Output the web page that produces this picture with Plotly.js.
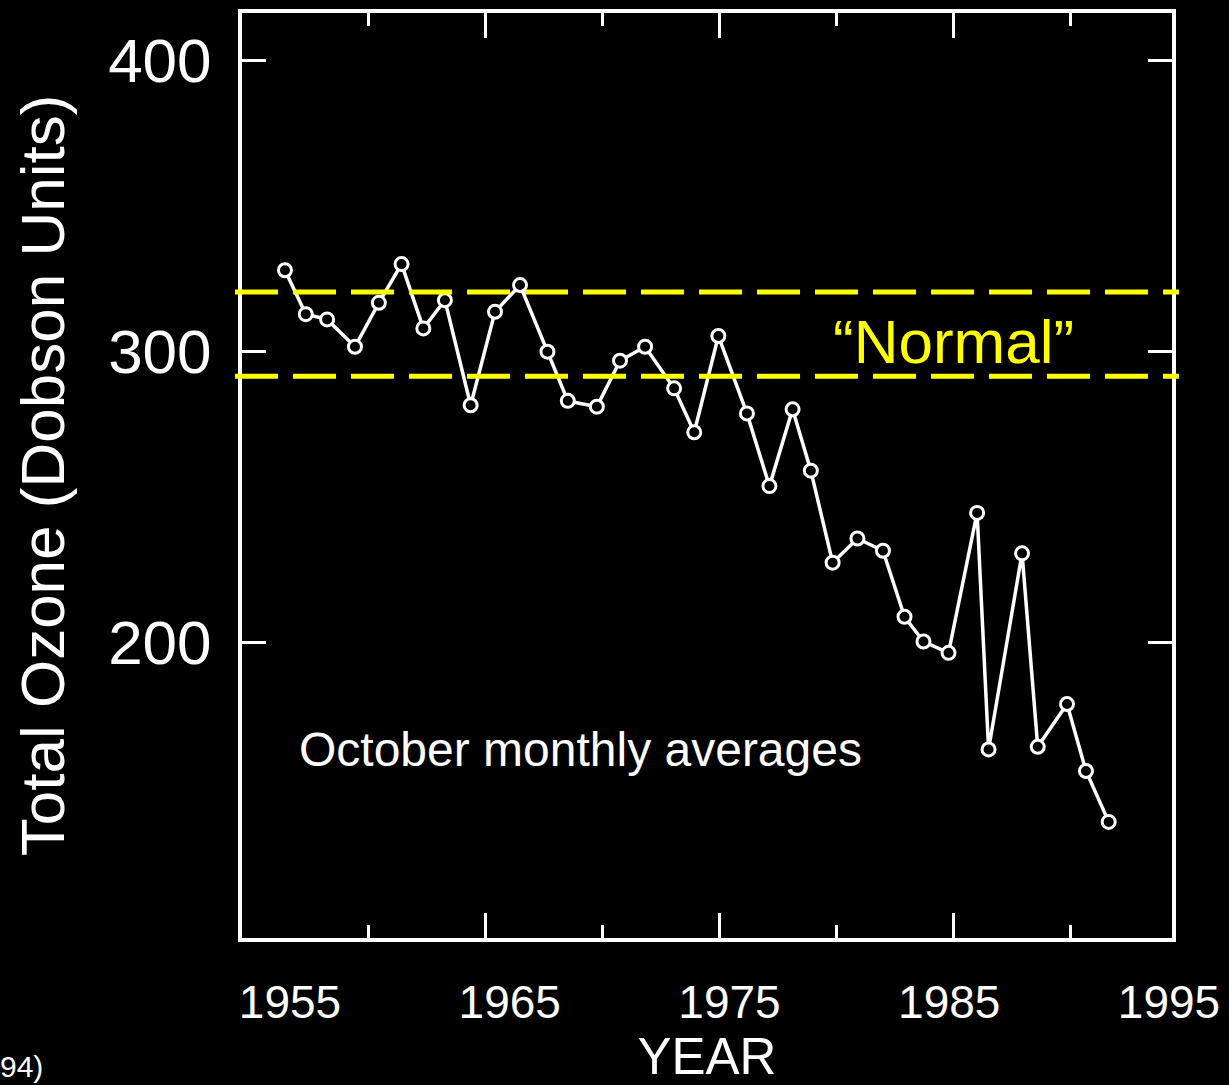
<!DOCTYPE html>
<html>
<head>
<meta charset="utf-8">
<script src="https://cdn.plot.ly/plotly-3.0.1.min.js"></script>
<style>html,body{margin:0;padding:0;background:#000;}#chart{width:1229px;height:1085px;}</style>
</head>
<body>
<div id="chart"></div>
<script>
// Year positions (October monthly averages)
const years = [1956.45, 1957.34, 1958.25, 1959.44, 1960.46, 1961.43, 1962.36, 1963.28, 1964.38, 1965.42,
               1966.49, 1967.66, 1968.53, 1969.77, 1970.76, 1971.83, 1973.07, 1973.93, 1974.96, 1976.18,
               1977.14, 1978.13, 1978.91, 1979.84, 1980.90, 1981.99, 1982.91, 1983.72, 1984.79, 1986.01,
               1986.50, 1987.93, 1988.60, 1989.85, 1990.66, 1991.63];
// Total ozone (Dobson Units)
const ozone = [327.8, 312.7, 310.9, 301.5, 316.6, 329.9, 307.8, 317.5, 281.4, 313.5,
               322.7, 299.8, 282.9, 280.9, 296.7, 301.5, 287.2, 272.1, 305.2, 278.6,
               253.6, 280.0, 258.9, 227.3, 235.6, 231.4, 208.7, 200.2, 196.3, 244.4,
               163.1, 230.5, 164.0, 178.7, 155.7, 138.2];
// "Normal" band limits
const normalBand = [320.3, 291.4];
// Tick values and labels
const yTickVals = [200, 300, 400];
const xMajorTicks = [1965, 1975, 1985];
const xMinorTicks = [1960, 1970, 1980, 1990];
const xLabelVals = [1955, 1965, 1975, 1985, 1995];

const FONT = "Liberation Sans, Arial, Helvetica, sans-serif";

const trace = {
  x: years, y: ozone, type: 'scatter', mode: 'lines+markers',
  line: {color: '#ffffff', width: 3.5},
  marker: {symbol: 'circle', size: 13, color: '#000000', line: {color: '#ffffff', width: 3}},
  hoverinfo: 'skip', showlegend: false
};
// empty trace so the label axis is drawn
const labelAxisTrace = {x: [], y: [], xaxis: 'x2', yaxis: 'y', type: 'scatter', mode: 'markers',
  hoverinfo: 'skip', showlegend: false};

const shapes = normalBand.map(v => ({
  type: 'line', xref: 'paper', yref: 'y', x0: -0.0075, x1: 1.0075, y0: v, y1: v,
  line: {color: '#ffff00', width: 5, dash: '43px,15px'}, layer: 'above'
}));

const layout = {
  width: 1229, height: 1085,
  paper_bgcolor: '#000000', plot_bgcolor: '#000000',
  margin: {l: 242, r: 57, t: 13, b: 147},
  font: {family: FONT, color: '#ffffff'},
  showlegend: false,
  xaxis: {
    range: [1954.615, 1994.334],
    showline: true, linecolor: '#ffffff', linewidth: 4, mirror: 'ticks',
    ticks: 'inside', ticklen: 25, tickwidth: 3, tickcolor: '#ffffff',
    tickmode: 'array', tickvals: xMajorTicks, showticklabels: false,
    minor: {ticks: 'inside', ticklen: 13, tickwidth: 3, tickcolor: '#ffffff', tickmode: 'array', tickvals: xMinorTicks},
    showgrid: false, zeroline: false
  },
  xaxis2: {
    overlaying: 'x', anchor: 'y', side: 'bottom',
    range: [1952.816, 1995.137],
    tickmode: 'array', tickvals: xLabelVals, ticktext: xLabelVals.map(String),
    ticks: '', showline: false, showgrid: false, zeroline: false,
    tickfont: {family: FONT, size: 46, color: '#ffffff'},
    ticklabelstandoff: 33,
    title: {text: 'YEAR', font: {family: FONT, size: 51, color: '#ffffff'}, standoff: 20}
  },
  yaxis: {
    range: [98.3, 416.2],
    showline: true, linecolor: '#ffffff', linewidth: 4, mirror: 'ticks',
    ticks: 'inside', ticklen: 24, tickwidth: 3, tickcolor: '#ffffff',
    tickmode: 'array', tickvals: yTickVals,
    tickfont: {family: FONT, size: 62, color: '#ffffff'},
    ticklabelstandoff: 14,
    showgrid: false, zeroline: false,
    title: {text: 'Total Ozone (Dobson Units)', font: {family: FONT, size: 62, color: '#ffffff'}, standoff: 24}
  },
  shapes: shapes,
  annotations: [
    {xref: 'paper', yref: 'paper', x: 0.765, y: 0.645, text: '\u201CNormal\u201D', showarrow: false,
     xanchor: 'center', yanchor: 'middle', font: {family: FONT, size: 62, color: '#ffff00'}},
    {xref: 'paper', yref: 'paper', x: 0.059, y: 0.204, text: 'October monthly averages', showarrow: false,
     xanchor: 'left', yanchor: 'middle', font: {family: FONT, size: 48, color: '#ffffff'}},
    {xref: 'paper', yref: 'paper', x: -0.2118, y: -0.1384, text: '94)', showarrow: false,
     xanchor: 'right', yanchor: 'middle', font: {family: FONT, size: 30, color: '#ffffff'}}
  ]
};

Plotly.newPlot('chart', [trace, labelAxisTrace], layout, {staticPlot: true, displayModeBar: false});
</script>
</body>
</html>
